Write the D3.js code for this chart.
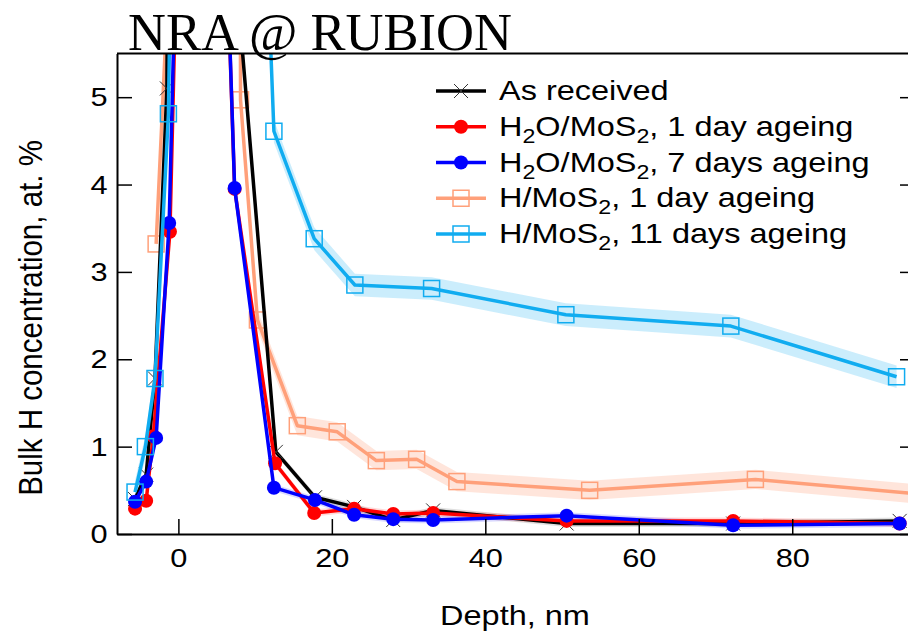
<!DOCTYPE html>
<html>
<head>
<meta charset="utf-8">
<script src="https://cdnjs.cloudflare.com/ajax/libs/d3/7.8.5/d3.min.js"></script>
<style>
body { margin: 0; background: #fff; }
svg { display: block; }
text { font-family: "Liberation Sans", Arial, Helvetica, sans-serif; }
</style>
</head>
<body>
<svg></svg>
<script>
const width = 908, height = 634

// As received
const asRecDepth = [-5.65, -4.2, -3.05, -1.5, 0.5, 6.0, 12.7, 17.8, 22.9, 28.0, 33.2, 50.6, 72.3, 94.0]
const asRecH     = [0.40, 0.68, 1.78, 5.1, 30, 8.0, 0.94, 0.42, 0.31, 0.16, 0.27, 0.12, 0.12, 0.15]
// H2O/MoS2, 1 day
const h2o1Depth = [-5.65, -4.2, -3.27, -1.1, 2.5, 7.33, 12.6, 17.7, 22.9, 28.0, 33.2, 50.6, 72.3, 94.0]
const h2o1H     = [0.29, 0.38, 1.12, 3.46, 16.6, 3.95, 0.81, 0.24, 0.29, 0.23, 0.24, 0.15, 0.15, 0.12]
// H2O/MoS2, 7 days
const h2o7Depth = [-5.65, -4.2, -2.9, -1.2, 2.5, 7.33, 12.45, 17.8, 22.9, 28.0, 33.2, 50.6, 72.3, 94.0]
const h2o7H     = [0.37, 0.60, 1.10, 3.56, 16.8, 3.96, 0.53, 0.39, 0.22, 0.17, 0.16, 0.21, 0.10, 0.12]
// H/MoS2, 1 day
const hMos1Depth = [-2.9, 2.5, 7.9, 8.1, 10.3, 15.5, 20.7, 25.8, 31.05, 36.3, 53.6, 75.2, 97.5]
const hMos1H     = [3.32, 13.5, 14, 4.97, 2.45, 1.24, 1.17, 0.84, 0.855, 0.60, 0.50, 0.625, 0.45]
// H/MoS2, 11 days
const hMos11Depth = [-5.65, -4.3, -3.05, -1.3, 2.5, 12.45, 17.7, 23.0, 33.0, 50.5, 72.0, 93.6]
const hMos11H     = [0.48, 1.00, 1.78, 4.81, 27.3, 4.61, 3.38, 2.85, 2.81, 2.51, 2.38, 1.80]

// uncertainty (half width of shaded band), at.%
const bandHalf = [0.04, 0.04, 0.04, 0.11, 0.13]

const seriesLabels = ["As received", "H_2O/MoS_2, 1 day ageing", "H_2O/MoS_2, 7 days ageing",
                      "H/MoS_2, 1 day ageing", "H/MoS_2, 11 days ageing"]
const xTicks = [0, 20, 40, 60, 80]
const yTicks = [0, 1, 2, 3, 4, 5]

const colors  = ["#000000", "#ff0000", "#0000ff", "#ffa07a", "#10acf0"]
const markers = ["x", "circle", "circle", "square", "square"]
const bandOpacity = [0.12, 0.15, 0.15, 0.27, 0.22]

const depths = [asRecDepth, h2o1Depth, h2o7Depth, hMos1Depth, hMos11Depth]
const values = [asRecH, h2o1H, h2o7H, hMos1H, hMos11H]

const series = seriesLabels.map((label, i) => ({
    label: label,
    color: colors[i],
    marker: markers[i],
    err: bandHalf[i],
    bandOpacity: bandOpacity[i],
    points: depths[i].map((d, j) => ({ depth: d, h: values[i][j] }))
}))

// the original glyphs are a bit wider than Liberation Sans
const stretch = 1.16

var svg = d3.select("svg")
    .attr("width", width)
    .attr("height", height)

const x = d3.scaleLinear().domain([-8, 96]).range([117, 915])
const y = d3.scaleLinear().domain([0, 5.5]).range([534, 53.5])

svg.append("defs").append("clipPath").attr("id", "plotClip")
    .append("rect")
    .attr("x", 117).attr("y", 54)
    .attr("width", 798).attr("height", 480)

const plot = svg.append("g").attr("clip-path", "url(#plotClip)")

// shaded bands
series.forEach(s => {
    const a = d3.area()
        .x(d => x(d.depth))
        .y0(d => y(d.h - s.err))
        .y1(d => y(d.h + s.err))
    plot.append("path")
        .attr("d", a(s.points))
        .attr("fill", s.color)
        .attr("fill-opacity", s.bandOpacity)
})

const line = d3.line()
    .x(d => x(d.depth))
    .y(d => y(d.h))

function drawMarker(g, type, color, cx, cy) {
    if (type == "circle") {
        g.append("circle")
            .attr("cx", cx).attr("cy", cy).attr("r", 7)
            .attr("fill", color)
    } else if (type == "square") {
        g.append("rect")
            .attr("x", cx - 8).attr("y", cy - 8)
            .attr("width", 16).attr("height", 16)
            .attr("fill", "none")
            .attr("stroke", color)
            .attr("stroke-width", 1.5)
    } else {
        g.append("path")
            .attr("transform", `translate(${cx},${cy})`)
            .attr("d", "M-7,-7L7,7M-7,7L7,-7")
            .attr("stroke", "#333")
            .attr("stroke-width", 1)
            .attr("fill", "none")
    }
}

const drawOrder = [3, 0, 1, 2, 4]
drawOrder.forEach(i => {
    const s = series[i]
    plot.append("path")
        .attr("d", line(s.points))
        .attr("fill", "none")
        .attr("stroke", s.color)
        .attr("stroke-width", 3.5)
        .attr("stroke-linejoin", "round")
    const mg = plot.append("g")
    s.points.forEach(p => drawMarker(mg, s.marker, s.color, x(p.depth), y(p.h)))
})

// axes
svg.append("g")
    .attr("transform", "translate(117,0)")
    .call(d3.axisLeft(y).tickValues(yTicks).tickFormat(d3.format("d"))
        .tickSizeInner(-15).tickSizeOuter(0).tickPadding(8))

svg.append("g")
    .attr("transform", "translate(0,534)")
    .call(d3.axisBottom(x).tickValues(xTicks).tickFormat(d3.format("d"))
        .tickSizeInner(-15).tickSizeOuter(0).tickPadding(14))

svg.append("g")
    .attr("transform", "translate(915,0)")
    .call(d3.axisRight(y).tickValues(yTicks).tickFormat("")
        .tickSizeInner(-15).tickSizeOuter(0))

svg.selectAll(".domain").attr("stroke", "#000").attr("stroke-width", 2)
svg.selectAll(".tick line").attr("stroke", "#000").attr("stroke-width", 1.5)
svg.selectAll(".tick text")
    .attr("fill", "#000")
    .style("font-size", "26.5px")
    .style("font-family", '"Liberation Sans", Arial, sans-serif')
    .attr("transform", `scale(${stretch},1)`)

// top frame line
svg.append("line")
    .attr("x1", 117).attr("x2", 915)
    .attr("y1", 53.5).attr("y2", 53.5)
    .attr("stroke", "#000").attr("stroke-width", 2)

// axis titles
svg.append("text")
    .attr("transform", `translate(515,625) scale(${stretch},1)`)
    .attr("text-anchor", "middle")
    .style("font-size", "28px")
    .text("Depth, nm")

svg.append("text")
    .attr("transform", `translate(42,318) rotate(-90) scale(1,1.1)`)
    .attr("text-anchor", "middle")
    .style("font-size", "29.5px")
    .text("Bulk H concentration, at. %")

// title
svg.append("text")
    .attr("x", 128).attr("y", 50)
    .style("font-family", '"Liberation Serif", "Times New Roman", serif')
    .style("font-size", "52.5px")
    .text("NRA @ RUBION")

// legend
const legend = svg.append("g").attr("transform", "translate(436,91)")
series.forEach((s, i) => {
    const row = legend.append("g").attr("transform", `translate(0,${i * 35.75})`)
    row.append("line")
        .attr("x1", 0).attr("x2", 50)
        .attr("stroke", s.color)
        .attr("stroke-width", 3.5)
    drawMarker(row, s.marker, s.color, 25, 0)
    const t = row.append("text")
        .attr("transform", `translate(63,9) scale(${stretch},1)`)
        .style("font-size", "28px")
    const parts = s.label.split(/_(\d)/)
    parts.forEach((part, j) => {
        if (part === "") return
        if (j % 2 == 1) {
            t.append("tspan").attr("dy", 7).style("font-size", "20px").text(part)
        } else {
            t.append("tspan").attr("dy", j > 0 ? -7 : 0).text(part)
        }
    })
})
</script>
</body>
</html>
